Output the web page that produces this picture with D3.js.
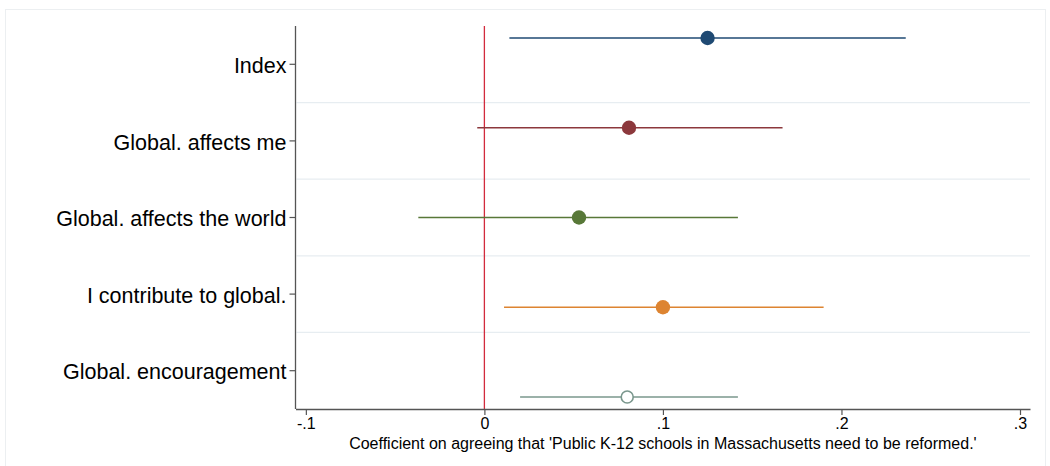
<!DOCTYPE html>
<html>
<head>
<meta charset="utf-8">
<script src="https://cdn.jsdelivr.net/npm/d3@7"></script>
<style>
  html, body { margin: 0; padding: 0; background: #fff; }
  svg { display: block; font-family: "Liberation Sans", Arial, Helvetica, sans-serif; }
</style>
</head>
<body>
<svg id="chart" width="1050" height="466"></svg>
<script>
// Coefficient estimates with 95% confidence intervals, one row per outcome
const categories = [
  "Index",
  "Global. affects me",
  "Global. affects the world",
  "I contribute to global.",
  "Global. encouragement"
];
const estimates = [0.125, 0.081, 0.053, 0.100, 0.080];
const ciLow     = [0.014, -0.004, -0.037, 0.011, 0.020];
const ciHigh    = [0.236, 0.167, 0.142, 0.190, 0.142];
const colors    = ["#1f4a73", "#8c383c", "#587838", "#dd8431", "#7a978d"];
const hollow    = [false, false, false, false, true];
const xTicks    = [-0.1, 0, 0.1, 0.2, 0.3];
const xTickLabels = ["-.1", "0", ".1", ".2", ".3"];
const xTitle = "Coefficient on agreeing that 'Public K-12 schools in Massachusetts need to be reformed.'";

const rows = categories.map((c, i) => ({
  name: c, est: estimates[i], lo: ciLow[i], hi: ciHigh[i],
  color: colors[i], hollow: hollow[i]
}));

const svg = d3.select("#chart");
const plot = { left: 295.5, right: 1030, top: 26, bottom: 409 };

// outer graph region frame
svg.append("rect")
  .attr("x", 5.5).attr("y", 9.5)
  .attr("width", 1040).attr("height", 470)
  .attr("fill", "#fff").attr("stroke", "#eceff1").attr("stroke-width", 1);

const x = d3.scaleLinear().domain([-0.1058, 0.3056]).range([plot.left, plot.right]);

// categories occupy equal bands; label ticks sit at band centres
const yBand = d3.scaleBand().domain(categories).range([plot.top, plot.bottom]).paddingInner(0).paddingOuter(0);
// markers are spread evenly across the plot height (model offsets)
const yMark = d3.scalePoint().domain(categories).range([plot.top + 12, plot.bottom - 12]);

// horizontal grid lines between categories
const gridYs = categories.slice(1).map(c => yBand(c));
svg.append("g").selectAll("line").data(gridYs).join("line")
  .attr("x1", plot.left + 1).attr("x2", plot.right)
  .attr("y1", d => d).attr("y2", d => d)
  .attr("stroke", "#e7edf1").attr("stroke-width", 1.2);

// reference line at zero
svg.append("line")
  .attr("x1", x(0)).attr("x2", x(0))
  .attr("y1", plot.top).attr("y2", plot.bottom)
  .attr("stroke", "#d22b3d").attr("stroke-width", 1.3);

// confidence interval spikes
svg.append("g").selectAll("line").data(rows).join("line")
  .attr("x1", d => x(d.lo)).attr("x2", d => x(d.hi))
  .attr("y1", d => yMark(d.name)).attr("y2", d => yMark(d.name))
  .attr("stroke", d => d.color).attr("stroke-width", 1.6);

// point estimates
svg.append("g").selectAll("circle").data(rows).join("circle")
  .attr("cx", d => x(d.est)).attr("cy", d => yMark(d.name))
  .attr("r", d => d.hollow ? 6 : 7.2)
  .attr("fill", d => d.hollow ? "#fff" : d.color)
  .attr("stroke", d => d.color)
  .attr("stroke-width", d => d.hollow ? 1.6 : 0);

// y axis
const yAxisG = svg.append("g").attr("transform", `translate(${plot.left},0)`);
yAxisG.call(d3.axisLeft(yBand).tickSize(6).tickPadding(3).tickSizeOuter(0));
yAxisG.select(".domain").attr("stroke", "#555").attr("stroke-width", 1.3)
  .attr("d", `M0,${plot.top}V${plot.bottom}`);
yAxisG.selectAll(".tick line").attr("stroke", "#555").attr("stroke-width", 1.2);
yAxisG.selectAll(".tick text")
  .attr("fill", "#000").attr("font-size", 21.5)
  .attr("dy", "0.4em")
  .attr("font-family", "'Liberation Sans', Arial, Helvetica, sans-serif");

// x axis
const xAxisG = svg.append("g").attr("transform", `translate(0,${plot.bottom})`);
xAxisG.call(d3.axisBottom(x).tickValues(xTicks)
  .tickFormat((d, i) => xTickLabels[i]).tickSize(6).tickPadding(3).tickSizeOuter(0));
xAxisG.select(".domain").attr("stroke", "#555").attr("stroke-width", 1.3);
xAxisG.selectAll(".tick line").attr("stroke", "#555").attr("stroke-width", 1.2);
xAxisG.selectAll(".tick text")
  .attr("fill", "#000").attr("font-size", 16)
  .attr("font-family", "'Liberation Sans', Arial, Helvetica, sans-serif");

// x axis title
svg.append("text")
  .attr("x", x(0.1)).attr("y", 449)
  .attr("text-anchor", "middle")
  .attr("font-size", 16)
  .attr("fill", "#000")
  .text(xTitle);
</script>
</body>
</html>
